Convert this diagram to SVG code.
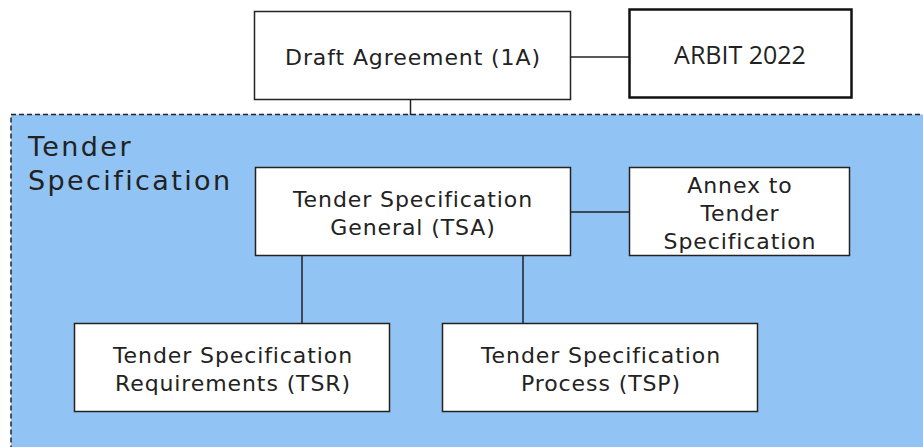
<svg xmlns="http://www.w3.org/2000/svg" width="923" height="447" viewBox="0 0 923 447">
<style>
.box{fill:#fff;stroke:#222;stroke-width:1.5}
.t{font-family:"DejaVu Sans",Verdana,sans-serif;font-size:22px;letter-spacing:0.9px;fill:#222;text-anchor:middle}
.lbl{font-family:"DejaVu Sans",Verdana,sans-serif;font-size:27px;letter-spacing:2.4px;fill:#222}
.c{stroke:#222;stroke-width:1.5;fill:none}
</style>
<rect width="923" height="447" fill="#fff"/>
<g id="container">
<rect x="11" y="114.5" width="920" height="340" fill="#91C4F4" stroke="#222" stroke-width="1.5" stroke-dasharray="5,3"/>
<text class="lbl" x="28" y="156">Tender</text>
<text class="lbl" x="28" y="190">Specification</text>
</g>
<g id="connectors">
<line class="c" x1="571" y1="57" x2="629" y2="57"/>
<line class="c" x1="410.5" y1="100" x2="410.5" y2="115"/>
<line class="c" x1="571" y1="212" x2="629" y2="212"/>
<line class="c" x1="302" y1="256" x2="302" y2="323"/>
<line class="c" x1="523" y1="256" x2="523" y2="323"/>
</g>
<g id="draft">
<rect class="box" x="254.5" y="11.5" width="316" height="88"/>
<text class="t" x="413" y="65">Draft Agreement (1A)</text>
</g>
<g id="arbit">
<rect x="629.5" y="9.5" width="222" height="88" fill="#fff" stroke="#111" stroke-width="2.5"/>
<text x="740" y="64" style="font-family:'Open Sans',sans-serif;font-size:25px;fill:#222;text-anchor:middle">ARBIT 2022</text>
</g>
<g id="tsa">
<rect class="box" x="255.5" y="167.5" width="315" height="88"/>
<text class="t" x="413" y="207">Tender Specification</text>
<text class="t" x="413" y="235">General (TSA)</text>
</g>
<g id="annex">
<rect class="box" x="629.5" y="167.5" width="220" height="88"/>
<text class="t" x="740" y="193">Annex to</text>
<text class="t" x="740" y="221">Tender</text>
<text class="t" x="740" y="249">Specification</text>
</g>
<g id="tsr">
<rect class="box" x="74.5" y="323.5" width="315" height="88"/>
<text class="t" x="233" y="363">Tender Specification</text>
<text class="t" x="233" y="391">Requirements (TSR)</text>
</g>
<g id="tsp">
<rect class="box" x="442.5" y="323.5" width="315" height="88"/>
<text class="t" x="601" y="363">Tender Specification</text>
<text class="t" x="601" y="391">Process (TSP)</text>
</g>
</svg>
